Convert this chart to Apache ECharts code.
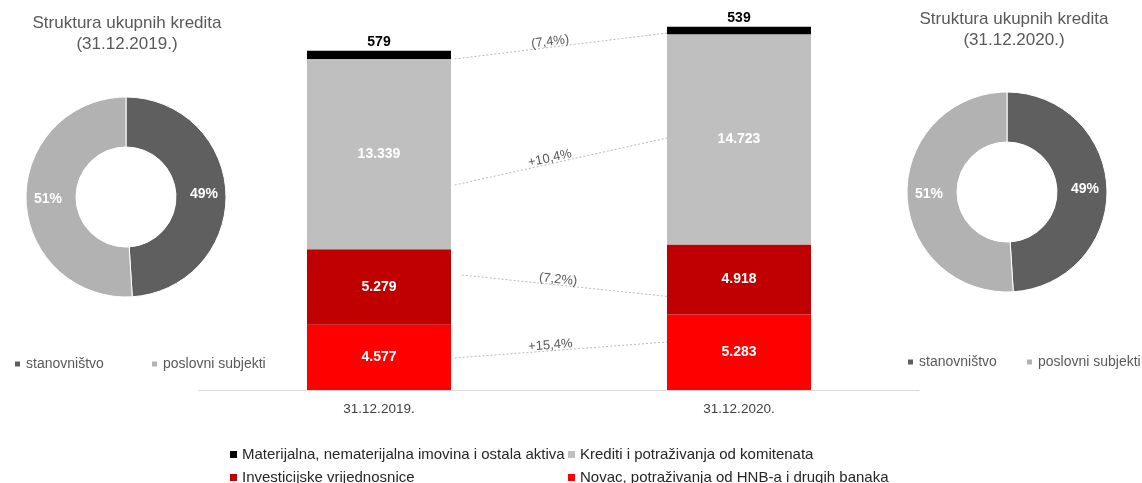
<!DOCTYPE html>
<html lang="hr">
<head>
<meta charset="UTF-8" />
<title>Struktura aktive</title>
<script src="https://cdn.jsdelivr.net/npm/echarts@6/dist/echarts.min.js"></script>
<style type="text/css">
html,body{margin:0;padding:0;background:#fff;}
#main{width:1142px;height:483px;}
</style>
</head>
<body>
<div id="main"></div>
<script type="text/javascript">
// podaci
var dates = ['31.12.2019.', '31.12.2020.'];
var novac = [4577, 5283];
var vrijednosnice = [5279, 4918];
var krediti = [13339, 14723];
var ostalo = [579, 539];
var pieNames = ['stanovništvo', 'poslovni subjekti'];
var pie2019 = [49, 51];
var pie2020 = [49, 51];
// spojnice izmedju stupaca (x na osi -0.5..1.5, y u vrijednostima)
var connLabels = ['(7,4%)', '+10,4%', '(7,2%)', '+15,4%'];
var connFrom = [[0.21, 23196], [0.21, 14366], [0.23, 8059], [0.21, 2243]];
var connTo = [[0.80, 25019], [0.80, 17660], [0.817, 6517], [0.80, 3364]];

var FONT = 'Liberation Sans';
function fmt(v){
    return String(v).replace(/\B(?=(\d{3})+(?!\d))/g, '.');
}
function barLabel(color){
    return {show:true, position:'inside', color:color, fontFamily:FONT, fontSize:14, fontWeight:'bold',
        formatter:function(p){ return fmt(p.value); }};
}
function oneLegend(name, left, top, color, size){
    return {data:[name], left:left, top:top, icon:'rect', itemWidth:7, itemHeight:7, itemGap:0, padding:0,
        selectedMode:false, textStyle:{fontFamily:FONT, fontSize:size, color:color}};
}
var connData = [];
for(var i=0;i<connLabels.length;i++){
    connData.push({name:connLabels[i], coords:[connFrom[i], connTo[i]]});
}
function pieSeries(center, data){
    return {
        type:'pie', center:center, radius:[50, 100], startAngle:90, clockwise:true,
        itemStyle:{borderColor:'#fff', borderWidth:1},
        label:{show:true, position:'inside', color:'#fff', fontFamily:FONT, fontSize:14, fontWeight:'bold',
            formatter:function(p){ return p.value + '%'; }},
        labelLine:{show:false},
        emphasis:{disabled:true},
        data:[
            {name:pieNames[0], value:data[0], itemStyle:{color:'#5f5f5f'}},
            {name:pieNames[1], value:data[1], itemStyle:{color:'#b2b2b2'}}
        ]
    };
}

var myChart = echarts.init(document.getElementById('main'));
myChart.setOption({
    animation:false,
    color:['#000000', '#bfbfbf', '#c00000', '#ff0000'],
    title:[
        {text:'Struktura ukupnih kredita\n(31.12.2019.)', left:122, top:8, textAlign:'center',
            textStyle:{fontFamily:FONT, fontSize:17, fontWeight:'normal', color:'#595959', lineHeight:21}},
        {text:'Struktura ukupnih kredita\n(31.12.2020.)', left:1009, top:4, textAlign:'center',
            textStyle:{fontFamily:FONT, fontSize:17, fontWeight:'normal', color:'#595959', lineHeight:21}}
    ],
    legend:[
        oneLegend(pieNames[0], 13, 357, '#595959', 14),
        oneLegend(pieNames[1], 150, 357, '#595959', 14),
        oneLegend(pieNames[0], 906, 355, '#595959', 14),
        oneLegend(pieNames[1], 1025, 355, '#595959', 14),
        oneLegend('Materijalna, nematerijalna imovina i ostala aktiva', 230, 447, '#262626', 15),
        oneLegend('Krediti i potraživanja od komitenata', 568, 447, '#262626', 15),
        oneLegend('Investicijske vrijednosnice', 230, 470, '#262626', 15),
        oneLegend('Novac, potraživanja od HNB-a i drugih banaka', 568, 470, '#262626', 15)
    ],
    grid:{left:199, right:223, top:19, bottom:93},
    xAxis:[
        {type:'category', data:dates,
            axisLine:{lineStyle:{color:'#d9d9d9'}}, axisTick:{show:false},
            axisLabel:{fontFamily:FONT, fontSize:13.5, color:'#404040', margin:12}},
        {type:'value', min:-0.5, max:1.5, show:false}
    ],
    yAxis:{type:'value', min:0, max:26000, show:false, splitLine:{show:false}},
    series:[
        {name:'Novac, potraživanja od HNB-a i drugih banaka', type:'bar', stack:'a', barWidth:'40%',
            itemStyle:{color:'#ff0000'}, label:barLabel('#fff'), data:novac},
        {name:'Investicijske vrijednosnice', type:'bar', stack:'a',
            itemStyle:{color:'#c00000'}, label:barLabel('#fff'), data:vrijednosnice},
        {name:'Krediti i potraživanja od komitenata', type:'bar', stack:'a',
            itemStyle:{color:'#bfbfbf'}, label:barLabel('#fff'), data:krediti},
        {name:'Materijalna, nematerijalna imovina i ostala aktiva', type:'bar', stack:'a',
            itemStyle:{color:'#000000'},
            label:{show:true, position:'top', distance:2, color:'#000', fontFamily:FONT, fontSize:14, fontWeight:'bold',
                formatter:function(p){ return fmt(p.value); }},
            data:ostalo},
        {type:'lines', coordinateSystem:'cartesian2d', xAxisIndex:1, yAxisIndex:0, silent:true,
            lineStyle:{color:'#b8b8b8', width:1, type:[2,2], opacity:1, curveness:0},
            label:{show:true, position:'middle', formatter:'{b}', color:'#595959', fontFamily:FONT, fontSize:13,
                distance:-1, padding:[0, 20, 0, 0]},
            data:connData},
        pieSeries([126, 197], pie2019),
        pieSeries([1007, 192], pie2020)
    ]
});
</script>
</body>
</html>
